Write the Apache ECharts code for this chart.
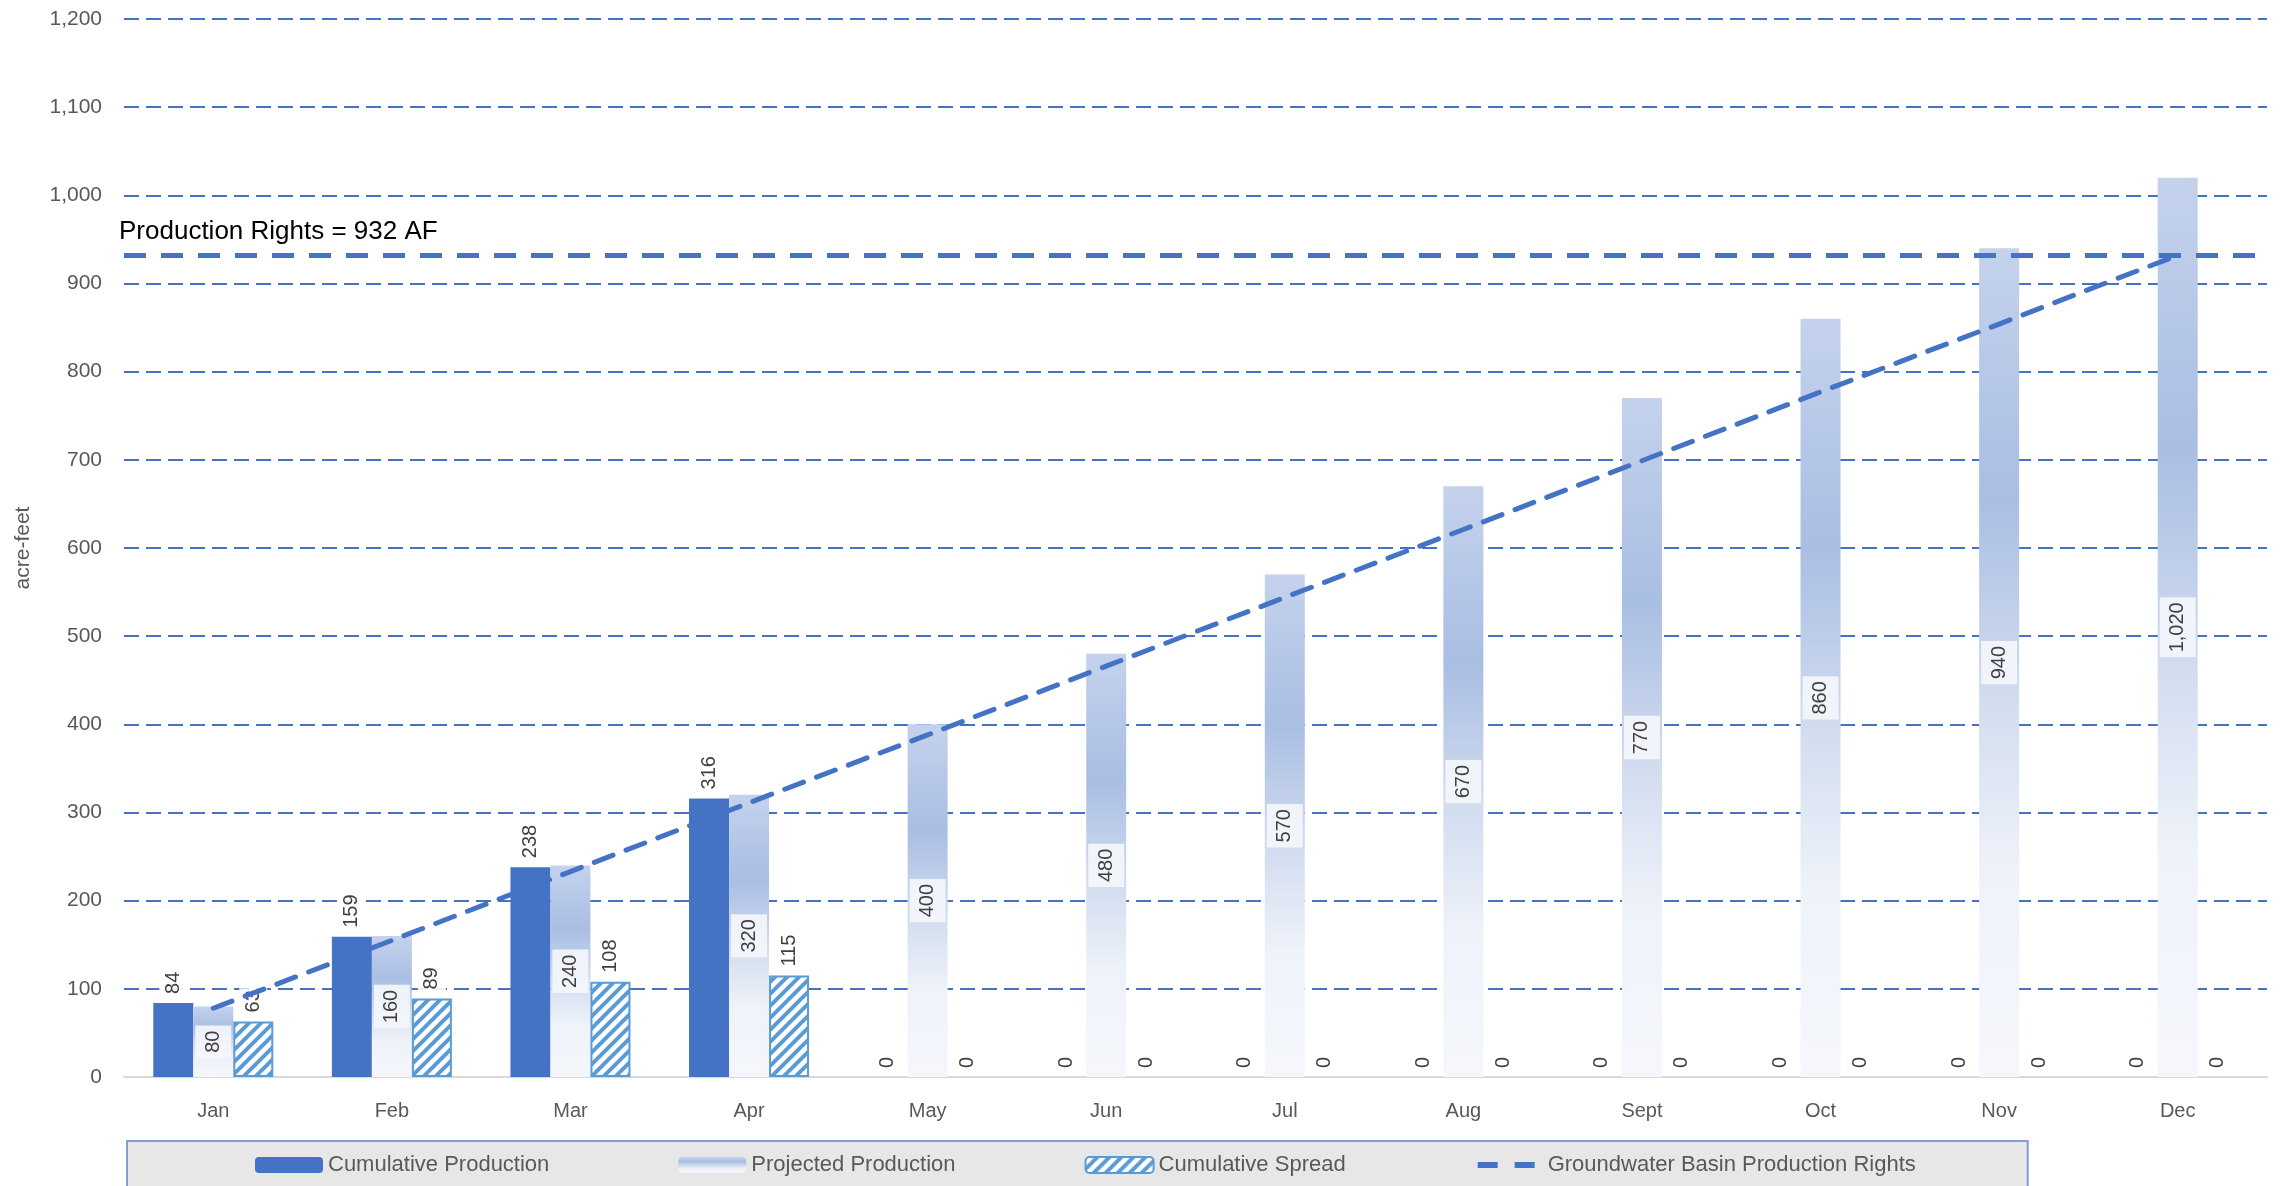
<!DOCTYPE html>
<html>
<head>
<meta charset="utf-8">
<title>Cumulative Production</title>
<script src="https://cdn.jsdelivr.net/npm/echarts@6.0.0/dist/echarts.min.js"></script>
<style>
  html, body { margin: 0; padding: 0; background: #fff; }
  #main { width: 2282px; height: 1186px; }
</style>
</head>
<body>
<div id="main"></div>
<script>
// chart data
const months = ['Jan', 'Feb', 'Mar', 'Apr', 'May', 'Jun', 'Jul', 'Aug', 'Sept', 'Oct', 'Nov', 'Dec'];
const cumulativeProduction = [84, 159, 238, 316, 0, 0, 0, 0, 0, 0, 0, 0];
const projectedProduction = [80, 160, 240, 320, 400, 480, 570, 670, 770, 860, 940, 1020];
const cumulativeSpread = [63, 89, 108, 115, 0, 0, 0, 0, 0, 0, 0, 0];
const basinRights = [78, 155, 233, 311, 388, 466, 544, 621, 699, 777, 854, 932];
const productionRights = 932;
const yMin = 0, yMax = 1200, yStep = 100;

const blue = '#4472c4';
const lightBlue = '#5b9bd5';
const font = '"Liberation Sans", Arial, sans-serif';

// hatch pattern for the spread bars
function hatch() {
    const c = document.createElement('canvas');
    c.width = 12;
    c.height = 12;
    const ctx = c.getContext('2d');
    ctx.fillStyle = '#fff';
    ctx.fillRect(0, 0, 12, 12);
    ctx.strokeStyle = lightBlue;
    ctx.lineWidth = 4;
    ctx.beginPath();
    ctx.moveTo(-3, 15); ctx.lineTo(15, -3);
    ctx.moveTo(-9, 9); ctx.lineTo(9, -9);
    ctx.moveTo(3, 21); ctx.lineTo(21, 3);
    ctx.stroke();
    return c;
}

const fmt = v => Number(v).toLocaleString('en-US');

const topLabel = {
    show: true,
    position: 'top',
    rotate: 90,
    align: 'left',
    verticalAlign: 'middle',
    distance: 7,
    color: '#404040',
    fontSize: 20,
    fontFamily: font,
    backgroundColor: 'rgba(255,255,255,0.9)',
    padding: [4, 2],
    formatter: p => fmt(p.value)
};

const projGradient = new echarts.graphic.LinearGradient(0, 0, 0, 1, [
    { offset: 0, color: '#c4d2ec' },
    { offset: 0.3, color: '#a9bee3' },
    { offset: 0.55, color: '#d3ddf0' },
    { offset: 0.75, color: '#eef2f9' },
    { offset: 1, color: '#f5f7fc' }
]);

// spread bars of 0 have no visible outline
const spreadData = cumulativeSpread.map(v => v === 0 ? { value: v, itemStyle: { borderWidth: 0 } } : v);

const option = {
    animation: false,
    backgroundColor: '#fff',
    grid: { left: 124, right: 15, top: 19, bottom: 109 },
    legend: {
        left: 127,
        top: 1141,
        padding: [13, 112, 20, 128],
        backgroundColor: '#e7e7e7',
        borderColor: '#7f9fd6',
        borderWidth: 2,
        itemWidth: 68,
        itemHeight: 16,
        itemGap: 129,
        textStyle: { color: '#595959', fontSize: 22, fontFamily: font },
        data: [
            'Cumulative Production',
            'Projected Production',
            'Cumulative Spread',
            {
                name: 'Groundwater Basin Production Rights',
                icon: 'path://M0,0L0.1,0L0,0.1Z M3,5h20v6h-20Z M40,5h20v6h-20Z M68,16L67.9,16L68,15.9Z'
            }
        ]
    },
    xAxis: {
        type: 'category',
        data: months,
        axisTick: { show: false },
        axisLine: { lineStyle: { color: '#d9d9d9', width: 2 } },
        axisLabel: { color: '#595959', fontSize: 20, fontFamily: font, margin: 24 }
    },
    yAxis: {
        type: 'value',
        min: yMin,
        max: yMax,
        interval: yStep,
        name: 'acre-feet',
        nameLocation: 'middle',
        nameGap: 90,
        nameTextStyle: { color: '#595959', fontSize: 21, fontFamily: font },
        axisLabel: { color: '#595959', fontSize: 21, fontFamily: font, margin: 22, formatter: fmt },
        splitLine: { lineStyle: { color: blue, width: 2, type: [15, 7] } }
    },
    series: [
        {
            name: 'Cumulative Production',
            type: 'bar',
            data: cumulativeProduction,
            barWidth: 40,
            barGap: '0%',
            itemStyle: { color: blue },
            label: topLabel
        },
        {
            name: 'Projected Production',
            type: 'bar',
            data: projectedProduction,
            barWidth: 40,
            barGap: '0%',
            itemStyle: { color: projGradient },
            label: {
                show: true,
                position: 'inside',
                rotate: 90,
                color: '#404040',
                fontSize: 20,
                fontFamily: font,
                backgroundColor: 'rgba(244,246,251,0.92)',
                padding: [8, 5],
                formatter: p => fmt(p.value)
            },
            markLine: {
                silent: true,
                symbol: 'none',
                lineStyle: { color: blue, width: 5, type: [22, 15] },
                label: {
                    show: true,
                    position: 'insideStartTop',
                    distance: [-5, 10],
                    color: '#000',
                    fontSize: 26,
                    fontFamily: font,
                    formatter: 'Production Rights = ' + productionRights + ' AF'
                },
                data: [{ yAxis: productionRights }]
            }
        },
        {
            name: 'Cumulative Spread',
            type: 'bar',
            data: spreadData,
            barWidth: 40,
            barGap: '0%',
            itemStyle: {
                color: { image: hatch(), repeat: 'repeat' },
                borderColor: lightBlue,
                borderWidth: 2
            },
            label: topLabel
        },
        {
            name: 'Groundwater Basin Production Rights',
            type: 'line',
            data: basinRights,
            symbol: 'none',
            z: 5,
            lineStyle: { color: blue, width: 5, type: [20, 14], cap: 'round' },
            itemStyle: { color: blue }
        }
    ]
};

const plot = echarts.init(document.querySelector('#main'));
plot.setOption(option);
</script>
</body>
</html>
